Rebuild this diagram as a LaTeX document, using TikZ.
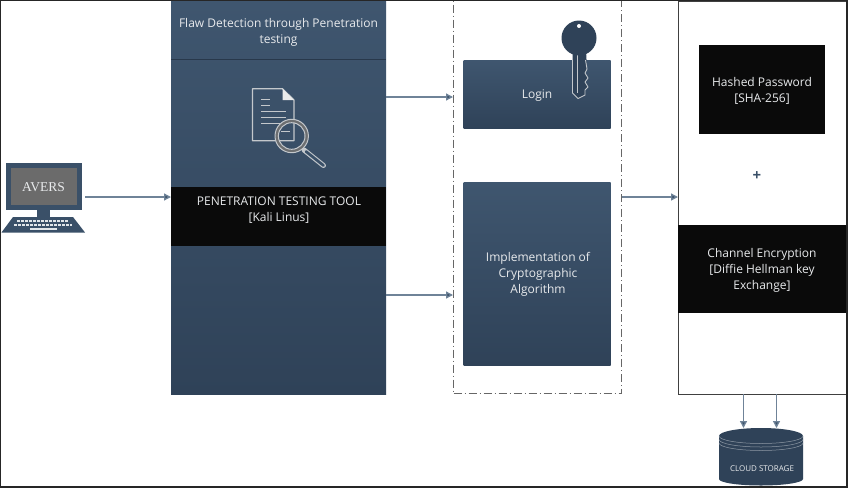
\documentclass[tikz,border=0pt]{standalone}
\usepackage{fontspec}
\setmainfont{Open Sans}
\newfontfamily\serifavers{Liberation Serif}
\usetikzlibrary{arrows.meta}
\definecolor{navy}{HTML}{3A5068}
\definecolor{navyd}{HTML}{2F4258}
\definecolor{navyl}{HTML}{3F566F}
\definecolor{arrowc}{HTML}{6F8398}
\definecolor{txtl}{HTML}{E8EAEC}
\definecolor{blk}{HTML}{0A0A0A}
\definecolor{iconc}{HTML}{C4C8CC}
\tikzset{
  x=1pt,y=-1pt,
  panel/.style={draw=none,top color=navyl,bottom color=navyd,minimum width=#1,inner sep=0pt,anchor=north west,outer sep=0pt},
  blackbox/.style={fill=blk,draw=none,inner sep=0pt,anchor=north west,align=center,text=white,outer sep=0pt},
  lab/.style={text=txtl,font=\fontsize{12}{16}\selectfont,align=center},
  conn/.style={draw=arrowc,line width=1.3pt,-{Triangle[length=7pt,width=7pt,fill=navy]}},
}
\begin{document}
\begin{tikzpicture}
\useasboundingbox (0,0) rectangle (848,488);
\fill[white] (0,0) rectangle (848,488);

% main column
\node[panel=215pt,minimum height=393pt] (main) at (171,1) {};
\draw[navyd!85!black,line width=.6pt] (171,59.5) -- (386,59.5);
\node[lab] (flaw) at (278.5,32) {Flaw Detection through Penetration\\testing};
\node[blackbox,minimum width=215pt,minimum height=59pt] (tool) at (171,187) {};
\node[lab] (tooltxt) at (279,210) {PENETRATION TESTING TOOL\\{}[Kali Linus]};

% document icon
\draw[iconc,line width=1.2pt,line join=round] (252.5,88.7) -- (282.5,88.7) -- (294,100) -- (294,140.7) -- (252.5,140.7) -- cycle;
\fill[white!92!black] (282.5,88.7) -- (294,100) -- (282.5,100) -- cycle;
\foreach \a/\b/\c in {99/261/270,105/261/270,111/261/286,117/261/286,123/261/286}
  \draw[iconc,line width=1pt] (\b,\a) -- (\c,\a);
\draw[iconc,line width=1pt] (281,131) -- (290,131);
\draw[iconc,line width=5pt,line cap=round] (304,150) -- (323.5,165.5);
\draw[navy,line width=2.8pt,line cap=round] (306,151.5) -- (323.5,165.5);
\draw[black!45!iconc,line width=3pt] (291.7,136) circle (15);
\draw[iconc,line width=1pt] (291.7,136) circle (16.7);
\draw[iconc,line width=1pt] (291.7,136) circle (13.3);

% middle dashed frame
\node[draw=black!60,dash pattern=on 8pt off 3pt on 1pt off 3pt,line width=1pt,minimum width=168pt,minimum height=394pt,anchor=north west,fill=none,inner sep=0pt] (frame) at (453,-1) {};
\node[panel=147pt,minimum height=68.5pt] (login) at (463.5,60) {};
\node[lab] (logintxt) at (537,96) {Login};
\node[panel=147pt,minimum height=183pt] (crypto) at (463.5,182) {};
\node[lab] (cryptotxt) at (538,274) {Implementation of\\Cryptographic\\Algorithm};

% key
\fill[navyd] (572.5,50) -- (572.5,93) -- (578,98.5) -- (585,95) -- (585,90) -- (588,87) -- (585,82) -- (588,78) -- (585,73) -- (587,69) -- (586,50) -- cycle;
\draw[iconc,line width=.9pt,line join=round] (572.5,60) -- (572.5,93) -- (578,98.5) -- (585,95) -- (585,90) -- (588,87) -- (585,82) -- (588,78) -- (585,73) -- (587,69) -- (585.5,60);
\draw[iconc,line width=.9pt] (577.7,55) -- (577.7,93);
\fill[navyd] (579,38) circle (17.5);
\fill[white] (579,26) circle (2);

% right white column
\node[draw=black!75,fill=white,line width=.8pt,minimum width=168pt,minimum height=392.5pt,anchor=north west,inner sep=0pt] (right) at (678,1) {};
\node[blackbox,minimum width=126pt,minimum height=89pt] (hash) at (699,45) {};
\node[lab] (hashtxt) at (762,90.5) {Hashed Password\\{}[SHA-256]};
\node[text=navy,font=\bfseries\fontsize{15}{15}\selectfont] (plus) at (757,176.5) {+};
\node[blackbox,minimum width=168pt,minimum height=88pt] (chan) at (678,224.5) {};
\node[lab] (chantxt) at (762,270) {Channel Encryption\\{}[Diffie Hellman key\\Exchange]};

% computer
\fill[navy] (6,162.5) rectangle (81.5,209.5);
\fill[black!58!white] (11,167.5) rectangle (76.5,204.5);
\node[text=txtl,font=\serifavers\fontsize{13.5}{14}\selectfont] (avers) at (43.5,187.5) {AVERS};
\fill[navy] (37,209) rectangle (50,217);
\fill[navy] (1.5,232.5) -- (13,217) -- (73,217) -- (85,232.5) -- cycle;
\draw[white!85!navy,line width=2pt,dash pattern=on 3pt off 1pt] (17,220.5) -- (68,220.5);
\draw[white!85!navy,line width=2pt,dash pattern=on 3pt off 1pt] (14,224.5) -- (72,224.5);
\draw[white!85!navy,line width=2pt] (30,228.5) -- (57,228.5);
\coordinate (pc) at (85,197);

% cloud storage
\fill[navyd] (719,436) arc[start angle=180,end angle=0,x radius=42,y radius=-8] -- (803,479) arc[start angle=0,end angle=180,x radius=42,y radius=6.5] -- cycle;
\node[text=txtl,inner sep=0pt,font=\fontsize{8}{9}\selectfont] (cloudtxt) at (762,468.5) {CLOUD STORAGE};
\draw[iconc!60!navy,line width=.5pt] (719,436) arc[start angle=180,end angle=0,x radius=42,y radius=7.5];
\draw[iconc!60!navy,line width=.5pt] (719,439.5) arc[start angle=180,end angle=0,x radius=42,y radius=7.5];
\draw[iconc!60!navy,line width=.5pt] (719,443) arc[start angle=180,end angle=0,x radius=42,y radius=7.5];

% image frame
\draw[line width=1.5pt,black!85] (0.7,0.7) rectangle (846.8,487.2);

% connectors
\draw[conn] (pc) -- (main.west |- pc);
\path (main.east |- 0,97) coordinate (m1) (frame.west |- 0,97) coordinate (f1);
\path (main.east |- 0,295) coordinate (m2) (frame.west |- 0,295) coordinate (f2);
\path (frame.east |- 0,197) coordinate (f3) (right.west |- 0,197) coordinate (r3);
\path (right.south -| 743.5,0) coordinate (r4) (right.south -| 776.5,0) coordinate (r5);
\path (743.5,428) coordinate (c4) (776.5,428) coordinate (c5);
\draw[conn] (m1) -- (f1);
\draw[conn] (m2) -- (f2);
\draw[conn] (f3) -- (r3);
\draw[conn] (r4) -- (c4);
\draw[conn] (r5) -- (c5);
\end{tikzpicture}
\end{document}
